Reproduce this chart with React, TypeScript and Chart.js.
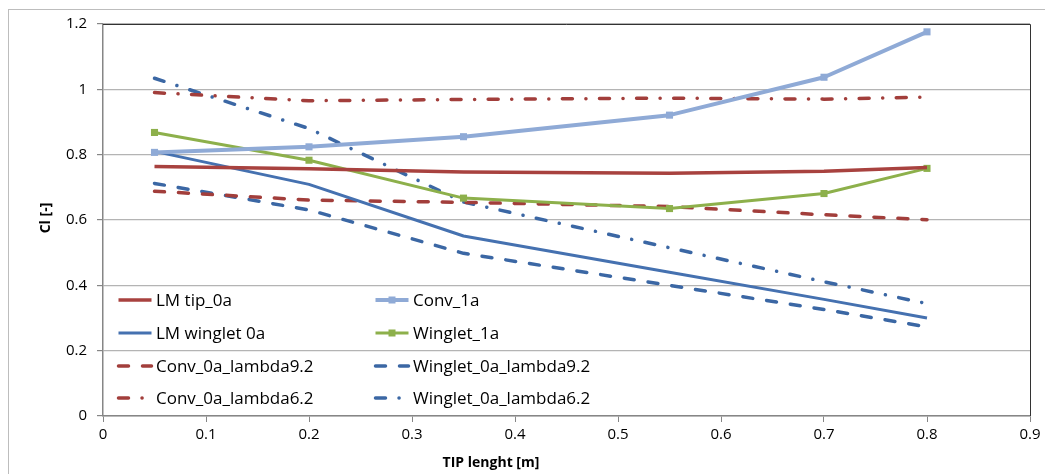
import React, { useEffect, useRef } from "react";
import { Chart, registerables } from "chart.js";

Chart.register(...registerables);

// ---- data ----
const tipLength = [0.05, 0.2, 0.35, 0.55, 0.7, 0.8];
const lmTip0a = [0.764, 0.757, 0.747, 0.743, 0.749, 0.761];
const conv1a = [0.807, 0.824, 0.855, 0.921, 1.037, 1.176];
const lmWinglet0a = [0.81, 0.709, 0.551, 0.44, 0.357, 0.3];
const winglet1a = [0.868, 0.783, 0.667, 0.635, 0.681, 0.758];
const conv0aL92 = [0.688, 0.661, 0.654, 0.641, 0.616, 0.601];
const winglet0aL92 = [0.712, 0.631, 0.498, 0.4, 0.326, 0.273];
const conv0aL62 = [0.99, 0.965, 0.969, 0.973, 0.97, 0.976];
const winglet0aL62 = [1.034, 0.88, 0.655, 0.515, 0.411, 0.344];

const seriesNames = [
  "LM tip_0a",
  "Conv_1a",
  "LM winglet 0a",
  "Winglet_1a",
  "Conv_0a_lambda9.2",
  "Winglet_0a_lambda9.2",
  "Conv_0a_lambda6.2",
  "Winglet_0a_lambda6.2",
];

const xTickLabels = ["0", "0.1", "0.2", "0.3", "0.4", "0.5", "0.6", "0.7", "0.8", "0.9"];
const yTickLabels = ["0", "0.2", "0.4", "0.6", "0.8", "1", "1.2"];
const xTitle = "TIP lenght [m]";
const yTitle = "Cl [-]";

const FONT = "'Open Sans', 'Noto Sans', sans-serif";

const RED = "#A8423F";
const RED_D = "#A23E3B";
const LBLUE = "#8FAAD6";
const BLUE = "#4571B0";
const BLUE_D = "#3B67A4";
const GREEN = "#8DB04B";

const DASH = [10, 14];
const DASHDOT = [10, 13.5, 0.1, 13.5];

const pts = (ys: number[]) => tipLength.map((x, i) => ({ x, y: ys[i] }));

const legendPlugin = {
  id: "customLegend",
  afterDraw(chart: any) {
    const ctx = chart.ctx as CanvasRenderingContext2D;
    const ca = chart.chartArea;
    const rows = [300, 333, 366, 398];
    const cols = [ca.left + 14, ca.left + 271];
    chart.data.datasets.forEach((ds: any, i: number) => {
      const col = i % 2;
      const row = Math.floor(i / 2);
      const x0 = cols[col];
      const y = rows[row];
      ctx.save();
      ctx.strokeStyle = ds.borderColor;
      ctx.lineWidth = ds.borderWidth;
      ctx.setLineDash(ds.borderDash || []);
      ctx.lineCap = ds.borderCapStyle || "butt";
      ctx.beginPath();
      ctx.moveTo(x0 + 1.5, y);
      ctx.lineTo(x0 + 34.5, y);
      ctx.stroke();
      if (ds.pointRadius > 0) {
        ctx.fillStyle = ds.pointBackgroundColor;
        ctx.fillRect(x0 + 18 - 3.5, y - 3.5, 7, 7);
      }
      ctx.fillStyle = "#000";
      ctx.font = `17px ${FONT}`;
      ctx.textBaseline = "middle";
      ctx.textAlign = "left";
      ctx.fillText(ds.label, x0 + 39, y + 1);
      ctx.restore();
    });

    // axis titles
    ctx.save();
    ctx.fillStyle = "#000";
    ctx.font = `bold 14px ${FONT}`;
    ctx.textAlign = "center";
    ctx.textBaseline = "middle";
    ctx.fillText(xTitle, 491, 463);
    ctx.translate(46, 218);
    ctx.rotate(-Math.PI / 2);
    ctx.fillText(yTitle, 0, 0);
    ctx.restore();
  },
};

const framePlugin = {
  id: "frame",
  beforeDraw(chart: any) {
    const ctx = chart.ctx as CanvasRenderingContext2D;
    ctx.save();
    ctx.fillStyle = "#fff";
    ctx.fillRect(0, 0, chart.width, chart.height);
    ctx.strokeStyle = "#BDBDBD";
    ctx.lineWidth = 1;
    ctx.strokeRect(8.5, 9.5, chart.width + 10, chart.height + 10);
    ctx.restore();
  },
  beforeDatasetsDraw(chart: any) {
    const ctx = chart.ctx as CanvasRenderingContext2D;
    const ca = chart.chartArea;
    ctx.save();
    ctx.strokeStyle = "#333";
    ctx.lineWidth = 1;
    ctx.beginPath();
    ctx.moveTo(ca.left, ca.top + 0.5);
    ctx.lineTo(ca.right + 0.5, ca.top + 0.5);
    ctx.lineTo(ca.right + 0.5, ca.bottom);
    ctx.stroke();
    ctx.restore();
  },
};

export default function App() {
  const ref = useRef<HTMLCanvasElement | null>(null);

  useEffect(() => {
    if (!ref.current) return;
    const lineDs = (
      label: string,
      ys: number[],
      color: string,
      width: number,
      dash: number[] | undefined,
      marker: boolean
    ) => ({
      label,
      data: pts(ys),
      borderColor: color,
      backgroundColor: color,
      borderWidth: width,
      borderDash: dash || [],
      borderCapStyle: dash ? "round" : "butt",
      borderJoinStyle: "round",
      tension: 0,
      fill: false,
      pointRadius: marker ? 5 : 0,
      pointHoverRadius: marker ? 5 : 0,
      pointStyle: "rect",
      pointBackgroundColor: color,
      pointBorderColor: color,
      pointBorderWidth: 0,
    });

    const datasets = [
      lineDs(seriesNames[0], lmTip0a, RED, 3.5, undefined, false),
      lineDs(seriesNames[1], conv1a, LBLUE, 4, undefined, true),
      lineDs(seriesNames[2], lmWinglet0a, BLUE, 3, undefined, false),
      lineDs(seriesNames[3], winglet1a, GREEN, 3, undefined, true),
      lineDs(seriesNames[4], conv0aL92, RED_D, 3.5, DASH, false),
      lineDs(seriesNames[5], winglet0aL92, BLUE_D, 3.5, DASH, false),
      lineDs(seriesNames[6], conv0aL62, RED_D, 3.5, DASHDOT, false),
      lineDs(seriesNames[7], winglet0aL62, BLUE_D, 3.5, DASHDOT, false),
    ];

    const chart = new Chart(ref.current, {
      type: "line",
      data: { datasets: datasets as any },
      options: {
        animation: false,
        responsive: false,
        maintainAspectRatio: false,
        layout: { padding: { left: 0, top: 24, right: 15, bottom: 0 } },
        plugins: {
          legend: { display: false },
          tooltip: { enabled: false },
        },
        scales: {
          x: {
            type: "linear",
            min: 0,
            max: 0.9,
            afterFit: (s: any) => {
              s.height = 58;
            },
            afterBuildTicks: (s: any) => {
              s.ticks = xTickLabels.map((t) => ({ value: parseFloat(t) }));
            },
            ticks: {
              callback: (_v: any, i: number) => xTickLabels[i],
              color: "#000",
              font: { family: FONT, size: 15 },
              padding: 4,
              maxRotation: 0,
            },
            grid: {
              drawOnChartArea: false,
              drawTicks: true,
              tickLength: 6,
              tickColor: "#868686",
            },
            border: { color: "#868686", width: 1.5 },
          },
          y: {
            type: "linear",
            min: 0,
            max: 1.2,
            afterFit: (s: any) => {
              s.width = 103;
            },
            afterBuildTicks: (s: any) => {
              s.ticks = yTickLabels.map((t) => ({ value: parseFloat(t) }));
            },
            ticks: {
              callback: (_v: any, i: number) => yTickLabels[i],
              color: "#000",
              font: { family: FONT, size: 15 },
              padding: 10,
            },
            grid: {
              color: "#B4B4B4",
              lineWidth: 1.2,
              drawTicks: true,
              tickLength: 6,
              tickColor: "#868686",
            },
            border: { color: "#868686", width: 1.5 },
          },
        },
      },
      plugins: [framePlugin, legendPlugin],
    });
    return () => chart.destroy();
  }, []);

  return (
    <div style={{ position: "absolute", left: 0, top: 0, width: 1045, height: 474, background: "#fff" }}>
      <canvas ref={ref} width={1045} height={474} style={{ display: "block" }} />
    </div>
  );
}
